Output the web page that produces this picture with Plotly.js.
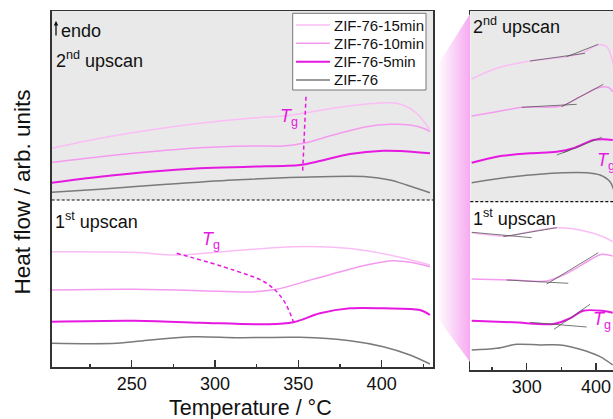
<!DOCTYPE html>
<html><head><meta charset="utf-8">
<script src="https://cdn.plot.ly/plotly-3.0.1.min.js"></script>
<style>html,body{margin:0;padding:0;background:#fff}#chart{width:613px;height:419px}</style>
</head><body><div id="chart"></div>
<script>
// ---------- data (Heat flow in arbitrary units, temperature in °C) ----------
const seriesNames = ['ZIF-76-15min', 'ZIF-76-10min', 'ZIF-76-5min', 'ZIF-76'];

// Left panel – 2nd upscan
const L2_T15 = [202, 231, 261, 291, 321, 343, 352.8, 370.8, 391, 405, 412.8, 421, 429];
const L2_Y15 = [21.87, 22.87, 23.7, 24.37, 24.87, 25.13, 25.37, 25.87, 26.3, 26.43, 26.2, 25.37, 23.7];
const L2_T10 = [202, 231, 261, 291, 321, 341, 353, 371, 391, 405, 417, 425, 429];
const L2_Y10 = [20.47, 21.03, 21.53, 21.93, 22.1, 22.1, 22.37, 23.2, 24.03, 24.27, 24.2, 23.87, 23.53];
const L2_T5 = [202, 231, 261, 291, 321, 351, 361, 381, 401, 411, 429];
const L2_Y5 = [18.43, 19.03, 19.53, 19.87, 20.03, 20.2, 20.53, 21.3, 21.63, 21.6, 21.37];
const L2_T0 = [202, 231, 271, 311, 351, 391, 405, 415, 429];
const L2_Y0 = [17.47, 17.77, 18.27, 18.7, 18.97, 19.03, 18.7, 18.2, 17.43];

// Left panel – 1st upscan
const L1_T15 = [202, 251, 277, 311, 347, 371, 391, 411, 429];
const L1_Y15 = [11.53, 11.47, 11.2, 11.63, 12.03, 11.97, 11.63, 10.97, 10.2];
const L1_T10 = [202, 251, 291, 321, 337, 361, 391, 407, 417, 429];
const L1_Y10 = [7.7, 7.77, 7.63, 7.5, 7.77, 8.87, 10.2, 10.63, 10.47, 10.03];
const L1_T5 = [202, 251, 291, 331, 347, 363, 381, 401, 423, 429];
const L1_Y5 = [4.53, 4.63, 4.43, 4.27, 4.47, 5.37, 5.87, 5.87, 5.7, 5.2];
const L1_T0 = [202, 241, 261, 287, 315, 351, 381, 401, 417, 429];
const L1_Y0 = [2.37, 2.37, 2.7, 3.03, 2.93, 2.97, 2.63, 2.03, 1.2, 0.3];

// Tg guide lines (left panel)
const TG2_T = [354.6, 352.6];
const TG2_Y = [27.03, 19.53];
const TG1_T = [277, 311, 331, 341, 347];
const TG1_Y = [11.37, 9.7, 8.37, 6.7, 4.53];

// Right (zoomed) panel – 2nd upscan
const R2_T15 = [220.6, 256.7, 304.8, 357.7, 381.7, 403.3, 415.4, 422.7, 427];
const R2_Y15 = [29.1, 30.17, 30.9, 31.33, 31.73, 32.5, 32.33, 31.17, 29.8];
const R2_T10 = [220.6, 256.7, 295.1, 350.5, 376.9, 405.8, 417.7, 424.1];
const R2_Y10 = [25.4, 25.83, 26.27, 26.4, 27.33, 28.27, 28.27, 27.83];
const R2_T5 = [220.6, 256.7, 304.8, 343.3, 367.2, 396.1, 410.5, 424.1];
const R2_Y5 = [20.73, 21.33, 21.67, 21.83, 22.17, 23.0, 23.07, 23.0];
const R2_T0 = [220.6, 280.7, 352.8, 386.6, 405.8, 420.2, 426];
const R2_Y0 = [18.73, 19.33, 19.73, 19.73, 19.5, 18.83, 17.9];

// Right (zoomed) panel – 1st upscan
const R1_T15 = [220.6, 271.1, 304.8, 343.3, 376.9, 410.5, 424.1];
const R1_Y15 = [13.73, 13.4, 13.83, 14.23, 14.0, 13.33, 12.83];
const R1_T10 = [220.6, 280.7, 328.9, 362.5, 391.3, 408.2, 424.1];
const R1_Y10 = [9.1, 9.0, 8.9, 9.83, 11.0, 11.57, 11.4];
const R1_T5 = [220.6, 280.7, 338.4, 362.5, 381.7, 410.5, 424.1];
const R1_Y5 = [4.93, 4.77, 4.6, 5.17, 5.93, 5.9, 5.73];
const R1_T0 = [220.6, 256.7, 285.6, 319.2, 348.1, 376.9, 405.8, 424.1];
const R1_Y0 = [2.0, 2.17, 2.57, 2.5, 2.5, 2.07, 1.33, 0.5];

// Tangent construction lines in the zoomed panel (segments separated by null)
const TAN_T = [304.8, 384.1, null, 357.7, 403.3, null,
               292.8, 372.2, null, 350.5, 410.5, null,
               343.3, 362.5, null, 352.8, 408.2, null,
               220.6, 307.2, null, 266.2, 343.3, null,
               271.1, 360.0, null, 328.9, 403.3, null,
               304.8, 386.6, null, 339.4, 391.3];
const TAN_Y = [30.9, 31.67, null, 31.33, 32.57, null,
               26.27, 26.57, null, 26.33, 28.57, null,
               21.5, 22.0, null, 21.73, 23.27, null,
               13.77, 13.23, null, 13.33, 14.23, null,
               9.0, 8.67, null, 8.6, 11.73, null,
               4.77, 4.3, null, 4.07, 6.57];

const xTicksLeft = [250, 300, 350, 400];
const xTicksRight = [300, 400];

// ---------- styling ----------
const colors = ['#fbbdf5', '#f59bef', '#e619e0', '#7a7a7a'];
const widths = [1.5, 1.5, 2, 1.5];
const FONT = 'Liberation Sans, Arial, Helvetica, sans-serif';
const W = 613, H = 419;
const px = v => v / W;
const py = v => 1 - v / H;

const traces = [];

// zoom-connector gradient band (decorative, paper pixel coordinates)
traces.push({
  x: [470, 436.7, 436.7, 470, 470], y: [14, 66.7, 316.7, 362, 14],
  xaxis: 'x3', yaxis: 'y3', mode: 'lines', fill: 'toself', line: {width: 0},
  fillcolor: 'rgba(245,165,240,0.5)',
  fillgradient: {type: 'horizontal', colorscale: [[0, 'rgba(255,255,255,1)'], [1, 'rgb(246,170,241)']]},
  showlegend: false, hoverinfo: 'skip'
});

function addSet(Ts, Ys, xa, ya) {
  for (let i = 0; i < 4; i++) {
    traces.push({
      x: Ts[i], y: Ys[i], xaxis: xa, yaxis: ya, mode: 'lines', name: seriesNames[i],
      showlegend: false,
      line: {color: colors[i], width: widths[i], shape: 'spline', smoothing: 0.9}
    });
  }
}
addSet([L2_T15, L2_T10, L2_T5, L2_T0], [L2_Y15, L2_Y10, L2_Y5, L2_Y0], 'x', 'y');
addSet([L1_T15, L1_T10, L1_T5, L1_T0], [L1_Y15, L1_Y10, L1_Y5, L1_Y0], 'x', 'y');
addSet([R2_T15, R2_T10, R2_T5, R2_T0], [R2_Y15, R2_Y10, R2_Y5, R2_Y0], 'x2', 'y2');
addSet([R1_T15, R1_T10, R1_T5, R1_T0], [R1_Y15, R1_Y10, R1_Y5, R1_Y0], 'x2', 'y2');

traces.push({x: TG2_T, y: TG2_Y, xaxis: 'x', yaxis: 'y', mode: 'lines', showlegend: false,
  line: {color: '#e619e0', width: 1.5, dash: '4px,3px'}});
traces.push({x: TG1_T, y: TG1_Y, xaxis: 'x', yaxis: 'y', mode: 'lines', showlegend: false,
  line: {color: '#e619e0', width: 1.5, dash: '4px,3px', shape: 'spline'}});
traces.push({x: TAN_T, y: TAN_Y, xaxis: 'x2', yaxis: 'y2', mode: 'lines', showlegend: false,
  connectgaps: false, line: {color: '#555', width: 0.8}});

const axisCommon = {
  showgrid: false, zeroline: false, showline: true, linecolor: '#333', linewidth: 1.5,
  ticks: 'inside', ticklen: 7, tickwidth: 1.2, tickcolor: '#333',
  tickfont: {family: FONT, size: 18, color: '#111'}, fixedrange: true
};

// manual legend (box, line samples, labels) in paper pixels
const legShapes = [{type: 'rect', xref: 'paper', yref: 'paper', x0: px(292.7), x1: px(426), y0: py(13.3), y1: py(90),
  fillcolor: '#fff', line: {color: '#777', width: 1}}];
const legAnn = [];
const rowY = [25, 43.3, 61.7, 80];
for (let i = 0; i < 4; i++) {
  legShapes.push({type: 'line', xref: 'paper', yref: 'paper', x0: px(296), x1: px(330), y0: py(rowY[i]), y1: py(rowY[i]),
    line: {color: colors[i], width: widths[i]}});
  legAnn.push({xref: 'paper', yref: 'paper', x: px(332), y: py(rowY[i]), xanchor: 'left', yanchor: 'middle',
    showarrow: false, text: seriesNames[i], font: {size: 15}});
}

const layout = {
  width: W, height: H, margin: {l: 0, r: 0, t: 0, b: 0},
  paper_bgcolor: '#fff', plot_bgcolor: 'rgba(0,0,0,0)',
  font: {family: FONT, color: '#111'},
  showlegend: false,
  xaxis: Object.assign({}, axisCommon, {
    domain: [51.7 / W, 433.3 / W], range: [202, 431], anchor: 'y', mirror: true,
    tickmode: 'array', tickvals: xTicksLeft,
    minor: {tickmode: 'array', tickvals: [225, 275, 325, 375, 425], ticks: 'inside', ticklen: 3.5, tickcolor: '#333', tickwidth: 1.2}
  }),
  yaxis: {domain: [52 / H, 408 / H], range: [0, 35.6], anchor: 'x', showgrid: false, zeroline: false,
    showline: true, mirror: true, linecolor: '#333', linewidth: 1.5, ticks: '', showticklabels: false, fixedrange: true},
  xaxis2: Object.assign({}, axisCommon, {
    domain: [470.3 / W, 1], range: [218.6, 424.5], anchor: 'y2', mirror: true,
    tickmode: 'array', tickvals: xTicksRight,
    minor: {tickmode: 'array', tickvals: [250, 350], ticks: 'inside', ticklen: 3.5, tickcolor: '#333', tickwidth: 1.2}
  }),
  yaxis2: {domain: [49 / H, 408 / H], range: [0, 35.9], anchor: 'x2', showgrid: false, zeroline: false,
    showline: true, mirror: false, linecolor: '#333', linewidth: 1.5, ticks: '', showticklabels: false, fixedrange: true},
  xaxis3: {domain: [0, 1], range: [0, W], visible: false, anchor: 'y3', fixedrange: true},
  yaxis3: {domain: [0, 1], range: [H, 0], visible: false, anchor: 'x3', fixedrange: true},
  shapes: [
    {type: 'rect', xref: 'x domain', yref: 'y', x0: 0, x1: 1, y0: 16.7, y1: 35.6, fillcolor: '#e9e9e9', line: {width: 0}, layer: 'below'},
    {type: 'line', xref: 'x domain', yref: 'y', x0: 0, x1: 1, y0: 16.7, y1: 16.7, line: {color: '#111', width: 1.2, dash: '3px,2px'}},
    {type: 'rect', xref: 'x2 domain', yref: 'y2', x0: 0, x1: 1, y0: 16.83, y1: 35.9, fillcolor: '#e9e9e9', line: {width: 0}, layer: 'below'},
    {type: 'line', xref: 'x2 domain', yref: 'y2', x0: 0, x1: 1, y0: 16.83, y1: 16.83, line: {color: '#111', width: 1.2, dash: '3px,2px'}}
  ].concat(legShapes),
  annotations: [
    {xref: 'paper', yref: 'paper', x: px(56), y: py(21), ax: 0, ay: 16, showarrow: true, arrowhead: 2,
      arrowsize: 0.7, arrowwidth: 1.3, arrowcolor: '#111', text: ''},
    {xref: 'paper', yref: 'paper', x: px(59), y: py(31), xanchor: 'left', yanchor: 'middle', showarrow: false,
      text: 'endo', font: {size: 18}},
    {xref: 'paper', yref: 'paper', x: px(54), y: py(59), xanchor: 'left', yanchor: 'middle', showarrow: false,
      text: '2<sup>nd</sup> upscan', font: {size: 18}},
    {xref: 'paper', yref: 'paper', x: px(53), y: py(220), xanchor: 'left', yanchor: 'middle', showarrow: false,
      text: '1<sup>st</sup> upscan', font: {size: 18}},
    {xref: 'paper', yref: 'paper', x: px(471), y: py(26), xanchor: 'left', yanchor: 'middle', showarrow: false,
      text: '2<sup>nd</sup> upscan', font: {size: 18}},
    {xref: 'paper', yref: 'paper', x: px(471), y: py(217), xanchor: 'left', yanchor: 'middle', showarrow: false,
      text: '1<sup>st</sup> upscan', font: {size: 18}},
    {xref: 'paper', yref: 'paper', x: px(289), y: py(104), showarrow: false,
      text: '<i>T</i><sub>g</sub>', font: {size: 18, color: '#e619e0'}},
    {xref: 'paper', yref: 'paper', x: px(200), y: py(241), showarrow: false,
      text: '<i>T</i><sub>g</sub>', font: {size: 18, color: '#e619e0'}},
    {xref: 'paper', yref: 'paper', x: px(595), y: py(161), xanchor: 'left', showarrow: false,
      text: '<i>T</i><sub>g</sub>', font: {size: 18, color: '#e619e0'}},
    {xref: 'paper', yref: 'paper', x: px(591), y: py(334), xanchor: 'left', showarrow: false,
      text: '<i>T</i><sub>g</sub>', font: {size: 18, color: '#e619e0'}},
    {xref: 'paper', yref: 'paper', x: px(250.5), y: 0, yanchor: 'bottom', yshift: -3, showarrow: false,
      text: 'Temperature / °C', font: {size: 21.5}},
    {xref: 'paper', yref: 'paper', x: 0, xanchor: 'left', xshift: 8, y: py(192), showarrow: false, textangle: -90,
      text: 'Heat flow / arb. units', font: {size: 22.5}}
  ].concat(legAnn)
};

Plotly.newPlot('chart', traces, layout, {staticPlot: true, displayModeBar: false});
</script>
</body></html>
